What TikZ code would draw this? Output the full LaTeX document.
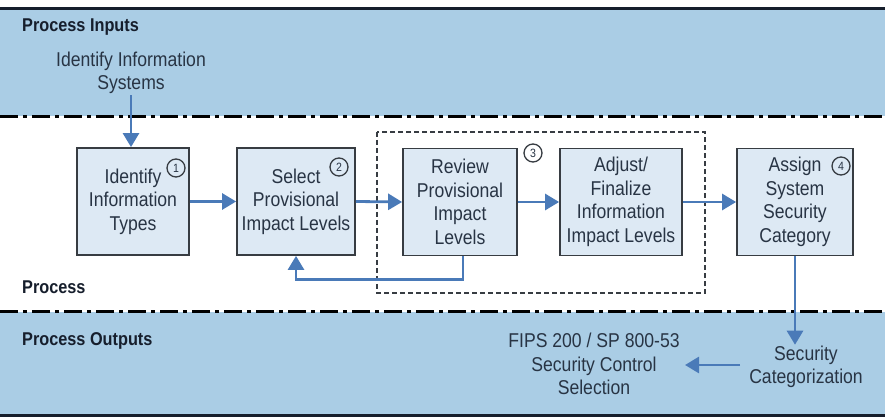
\documentclass[tikz,border=0pt]{standalone}
\usepackage{fontspec}
\setmainfont{Liberation Sans}[FakeStretch=0.88]
\usetikzlibrary{arrows.meta,calc}
\definecolor{band}{RGB}{170,205,229}
\definecolor{boxfill}{RGB}{221,233,244}
\definecolor{boxline}{RGB}{55,60,66}
\definecolor{arrowc}{RGB}{74,122,184}
\definecolor{txt}{RGB}{40,52,68}
\definecolor{head}{RGB}{22,30,44}
\begin{document}
\begin{tikzpicture}[x=1pt,y=-1pt,
  stepbox/.style={draw=boxline,line width=1.8pt,fill=boxfill,minimum height=107pt,inner sep=0pt,align=center,text=txt,font=\fontsize{20}{23.5}\selectfont},
  plain/.style={align=center,text=txt,font=\fontsize{20}{23.5}\selectfont,inner sep=1pt},
  heading/.style={anchor=west,text=head,font=\fontsize{18.5}{22}\selectfont\bfseries,inner sep=0pt},
  num/.style={circle,draw=boxline,line width=1.3pt,inner sep=0pt,minimum size=18pt,text=txt,font=\fontsize{12}{12}\selectfont},
  arr/.style={draw=arrowc,line width=2.8pt,-{Triangle[length=14pt,width=16pt]}},
  dashdot/.style={draw=black,line width=3pt,dash pattern=on 18pt off 5pt on 4pt off 5pt}]
\useasboundingbox (0,0) rectangle (885,419);
\fill[white] (0,0) rectangle (885,419);
% bands
\fill[band] (0,10) rectangle (885,116);
\fill[band] (0,312) rectangle (885,414);
\draw[line width=3pt,head] (0,9) -- (885,9);
\draw[line width=3pt,head] (0,415.5) -- (885,415.5);
\draw[dashdot] (0,117) -- (885,117);
\draw[dashdot] (0,311) -- (885,311);
% headings
\node[heading] (hin) at (22,27) {Process Inputs};
\node[heading] (hpr) at (22,287) {Process};
\node[heading] (hout) at (22,341) {Process Outputs};
% dashed group
\draw[boxline,line width=1.5pt,dash pattern=on 5pt off 3pt] (377,132) rectangle (705,293);
% input
\node[plain] (iis) at (131,73) {Identify Information\\Systems};
% boxes
\node[stepbox,minimum width=112pt] (b1) at (133,201.5) {Identify\\Information\\Types};
\node[stepbox,minimum width=118pt] (b2) at (296,201.5) {Select\\Provisional\\Impact Levels};
\node[stepbox,minimum width=114pt] (b3) at (460,202) {Review\\Provisional\\Impact\\Levels};
\node[stepbox,minimum width=122pt] (b4) at (621,202) {Adjust/\\Finalize\\Information\\Impact Levels};
\node[stepbox,minimum width=116pt] (b5) at (795,202) {Assign\\System\\Security\\Category};
% numbers
\node[num] (n1) at (176,168) {1};
\node[num] (n2) at (339,167) {2};
\node[num] (n3) at (533,153) {3};
\node[num] (n4) at (841,166) {4};
% outputs
\node[plain] (sc) at (806,367) {Security\\Categorization};
\node[plain] (fips) at (594,364) {FIPS 200 / SP 800-53\\Security Control\\Selection};
\coordinate (ha) at (740,365);
\coordinate (hb) at (685,365);
% arrows
\draw[arr] (iis.south) -- (iis.south |- b1.north);
\draw[arr] (b1.east) -- (b2.west);
\draw[arr] (b2.east) -- (b3.west);
\draw[arr] (b3.east) -- (b4.west);
\draw[arr] (b4.east) -- (b5.west);
\draw[arr] ([xshift=3pt]b3.south) -- ++(0,23) -| (b2.south);
\draw[arr] (b5.south) -- (b5.south |- sc.north);
\draw[arr] (ha) -- (hb);
\end{tikzpicture}
\end{document}
